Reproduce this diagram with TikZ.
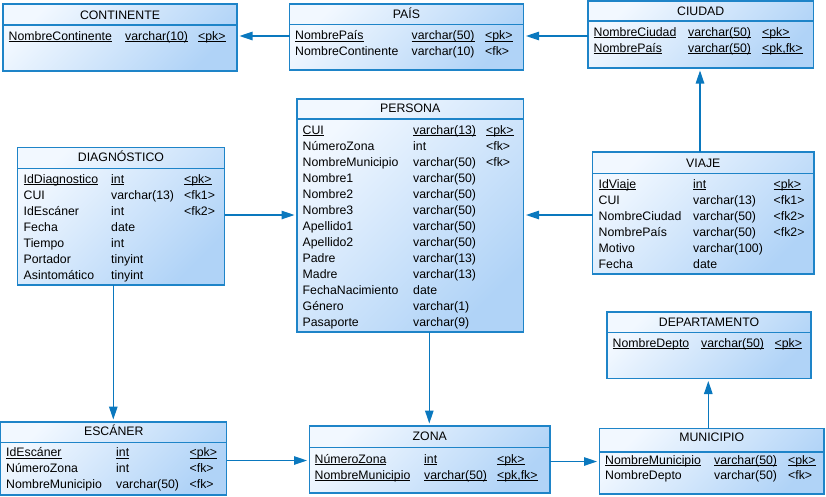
\documentclass[tikz,border=0pt]{standalone}
\usepackage{fontspec}
\setmainfont{Liberation Sans}
\usetikzlibrary{arrows.meta}

\definecolor{erborder}{RGB}{30,132,200}
\definecolor{erline}{RGB}{10,120,190}
\definecolor{erlight}{RGB}{242,248,255}
\definecolor{erdark}{RGB}{176,211,247}

\newcommand\erfont{\fontsize{12.3}{14}\selectfont}
% underline at a fixed distance below the baseline
\newcommand\ul[1]{\setbox0\hbox{#1}\rlap{\rule[-2pt]{\wd0}{0.9pt}}\box0}

% one field row: prefix, baseline, name, type, key
\newcommand\erow[5]{%
  \node[fld] (#1a) at (\xa,#2) {#3};
  \node[fld] (#1b) at (\xb,#2) {#4};
  \node[fld] (#1c) at (\xc,#2) {#5};}
% field row without key
\newcommand\nrow[4]{%
  \node[fld] (#1a) at (\xa,#2) {#3};
  \node[fld] (#1b) at (\xb,#2) {#4};}
% primary key row (all underlined)
\newcommand\prow[5]{\erow{#1}{#2}{\ul{#3}}{\ul{#4}}{\ul{#5}}}

\tikzset{
  tbl/.style={draw=erborder, line width=1.1pt, top color=erlight, bottom color=erdark,
    shading angle=45, anchor=north west, inner sep=0pt, outer sep=0pt},
  hdr/.style={draw=erborder, line width=1.1pt},
  ttl/.style={anchor=base, inner sep=0pt, font=\erfont},
  fld/.style={anchor=base west, inner sep=0pt, font=\erfont},
  rel/.style={draw=erline, line width=1.2pt,
    -{Triangle[length=13pt,width=8.5pt]}, shorten >=2.5pt}
}

\begin{document}
\begin{tikzpicture}[x=1pt,y=-1pt]
\useasboundingbox (0,0) rectangle (826,496);

% ---------- CONTINENTE ----------
\node[tbl, minimum width=234pt, minimum height=67pt] (cont) at (3,4) {};
\draw[hdr] (cont.west |- 0,25) -- (cont.east |- 0,25);
\node[ttl] (conttitle) at (cont.center |- 0,19) {CONTINENTE};
\def\xa{8.5}\def\xb{125}\def\xc{198}
\prow{cont1}{40}{NombreContinente}{varchar(10)}{<pk>}

% ---------- PAÍS ----------
\node[tbl, minimum width=234pt, minimum height=66pt] (pais) at (289.5,4) {};
\draw[hdr] (pais.west |- 0,24.5) -- (pais.east |- 0,24.5);
\node[ttl] (paistitle) at (pais.center |- 0,18.5) {PAÍS};
\def\xa{295}\def\xb{411.5}\def\xc{485}
\prow{pais1}{39.5}{NombrePaís}{varchar(50)}{<pk>}
\erow{pais2}{55.5}{NombreContinente}{varchar(10)}{<fk>}

% ---------- CIUDAD ----------
\node[tbl, minimum width=225.5pt, minimum height=67pt] (ciudad) at (588,1) {};
\draw[hdr] (ciudad.west |- 0,21) -- (ciudad.east |- 0,21);
\node[ttl] (ciudadtitle) at (ciudad.center |- 0,15.7) {CIUDAD};
\def\xa{593.5}\def\xb{688}\def\xc{762}
\prow{ciu1}{36.3}{NombreCiudad}{varchar(50)}{<pk>}
\prow{ciu2}{52.3}{NombrePaís}{varchar(50)}{<pk,fk>}

% ---------- PERSONA ----------
\node[tbl, minimum width=226.5pt, minimum height=233pt] (pers) at (297,99) {};
\draw[hdr] (pers.west |- 0,119) -- (pers.east |- 0,119);
\node[ttl] (perstitle) at (pers.center |- 0,112.5) {PERSONA};
\def\xa{302.5}\def\xb{413}\def\xc{486}
\prow{per1}{134}{CUI}{varchar(13)}{<pk>}
\erow{per2}{150}{NúmeroZona}{int}{<fk>}
\erow{per3}{166}{NombreMunicipio}{varchar(50)}{<fk>}
\nrow{per4}{182}{Nombre1}{varchar(50)}
\nrow{per5}{198}{Nombre2}{varchar(50)}
\nrow{per6}{214}{Nombre3}{varchar(50)}
\nrow{per7}{230}{Apellido1}{varchar(50)}
\nrow{per8}{246}{Apellido2}{varchar(50)}
\nrow{per9}{262}{Padre}{varchar(13)}
\nrow{per10}{278}{Madre}{varchar(13)}
\nrow{per11}{294}{FechaNacimiento}{date}
\nrow{per12}{310}{Género}{varchar(1)}
\nrow{per13}{326}{Pasaporte}{varchar(9)}

% ---------- DIAGNÓSTICO ----------
\node[tbl, minimum width=207pt, minimum height=137.5pt] (diag) at (17.5,147.5) {};
\draw[hdr] (diag.west |- 0,168.5) -- (diag.east |- 0,168.5);
\node[ttl] (diagtitle) at (diag.center |- 0,161.5) {DIAGNÓSTICO};
\def\xa{23.5}\def\xb{111}\def\xc{184}
\prow{dia1}{183.3}{IdDiagnostico}{int}{<pk>}
\erow{dia2}{199.3}{CUI}{varchar(13)}{<fk1>}
\erow{dia3}{215.3}{IdEscáner}{int}{<fk2>}
\nrow{dia4}{231.3}{Fecha}{date}
\nrow{dia5}{247.3}{Tiempo}{int}
\nrow{dia6}{263.3}{Portador}{tinyint}
\nrow{dia7}{279.3}{Asintomático}{tinyint}

% ---------- VIAJE ----------
\node[tbl, minimum width=221.5pt, minimum height=122pt] (viaje) at (592.5,152) {};
\draw[hdr] (viaje.west |- 0,173.5) -- (viaje.east |- 0,173.5);
\node[ttl] (viajetitle) at (viaje.center |- 0,167.5) {VIAJE};
\def\xa{598.5}\def\xb{693}\def\xc{773.5}
\prow{via1}{188.3}{IdViaje}{int}{<pk>}
\erow{via2}{204.3}{CUI}{varchar(13)}{<fk1>}
\erow{via3}{220.3}{NombreCiudad}{varchar(50)}{<fk2>}
\erow{via4}{236.3}{NombrePaís}{varchar(50)}{<fk2>}
\nrow{via5}{252.3}{Motivo}{varchar(100)}
\nrow{via6}{268.3}{Fecha}{date}

% ---------- ESCÁNER ----------
\node[tbl, minimum width=226pt, minimum height=73pt] (esc) at (0.8,422) {};
\draw[hdr] (esc.west |- 0,442.5) -- (esc.east |- 0,442.5);
\node[ttl] (esctitle) at (esc.center |- 0,435.7) {ESCÁNER};
\def\xa{6}\def\xb{116}\def\xc{189.5}
\prow{esc1}{456.7}{IdEscáner}{int}{<pk>}
\erow{esc2}{472.7}{NúmeroZona}{int}{<fk>}
\erow{esc3}{488.7}{NombreMunicipio}{varchar(50)}{<fk>}

% ---------- ZONA ----------
\node[tbl, minimum width=240.5pt, minimum height=67pt] (zona) at (309.5,426) {};
\draw[hdr] (zona.west |- 0,447.5) -- (zona.east |- 0,447.5);
\node[ttl] (zonatitle) at (zona.center |- 0,440.7) {ZONA};
\def\xa{314.5}\def\xb{424}\def\xc{497}
\prow{zon1}{463}{NúmeroZona}{int}{<pk>}
\prow{zon2}{479}{NombreMunicipio}{varchar(50)}{<pk,fk>}

% ---------- DEPARTAMENTO ----------
\node[tbl, minimum width=204pt, minimum height=66.5pt] (dept) at (607,312) {};
\draw[hdr] (dept.west |- 0,332.5) -- (dept.east |- 0,332.5);
\node[ttl] (depttitle) at (dept.center |- 0,326.3) {DEPARTAMENTO};
\def\xa{612.5}\def\xb{701}\def\xc{774.5}
\prow{dep1}{347.3}{NombreDepto}{varchar(50)}{<pk>}

% ---------- MUNICIPIO ----------
\node[tbl, minimum width=224.5pt, minimum height=65.5pt] (muni) at (599.5,428.5) {};
\draw[hdr] (muni.west |- 0,452) -- (muni.east |- 0,452);
\node[ttl] (munititle) at (muni.center |- 0,441.7) {MUNICIPIO};
\def\xa{605}\def\xb{714}\def\xc{788}
\prow{mun1}{464}{NombreMunicipio}{varchar(50)}{<pk>}
\erow{mun2}{479.7}{NombreDepto}{varchar(50)}{<fk>}

% ---------- references ----------
\draw[rel] (pais.west |- 0,36) -- (cont.east |- 0,36);
\draw[rel] (ciudad.west |- 0,36) -- (pais.east |- 0,36);
\draw[rel] (viaje.north -| 700,0) -- (ciudad.south -| 700,0);
\draw[rel] (viaje.west |- 0,215) -- (pers.east |- 0,215);
\draw[rel] (diag.east |- 0,215) -- (pers.west |- 0,215);
\draw[rel] (diag.south -| 113.3,0) -- (esc.north -| 113.3,0);
\draw[rel] (pers.south -| 429.3,0) -- (zona.north -| 429.3,0);
\draw[rel] (esc.east |- 0,460.5) -- (zona.west |- 0,460.5);
\draw[rel] (zona.east |- 0,461.5) -- (muni.west |- 0,461.5);
\draw[rel] (muni.north -| 708.3,0) -- (dept.south -| 708.3,0);
\end{tikzpicture}
\end{document}
